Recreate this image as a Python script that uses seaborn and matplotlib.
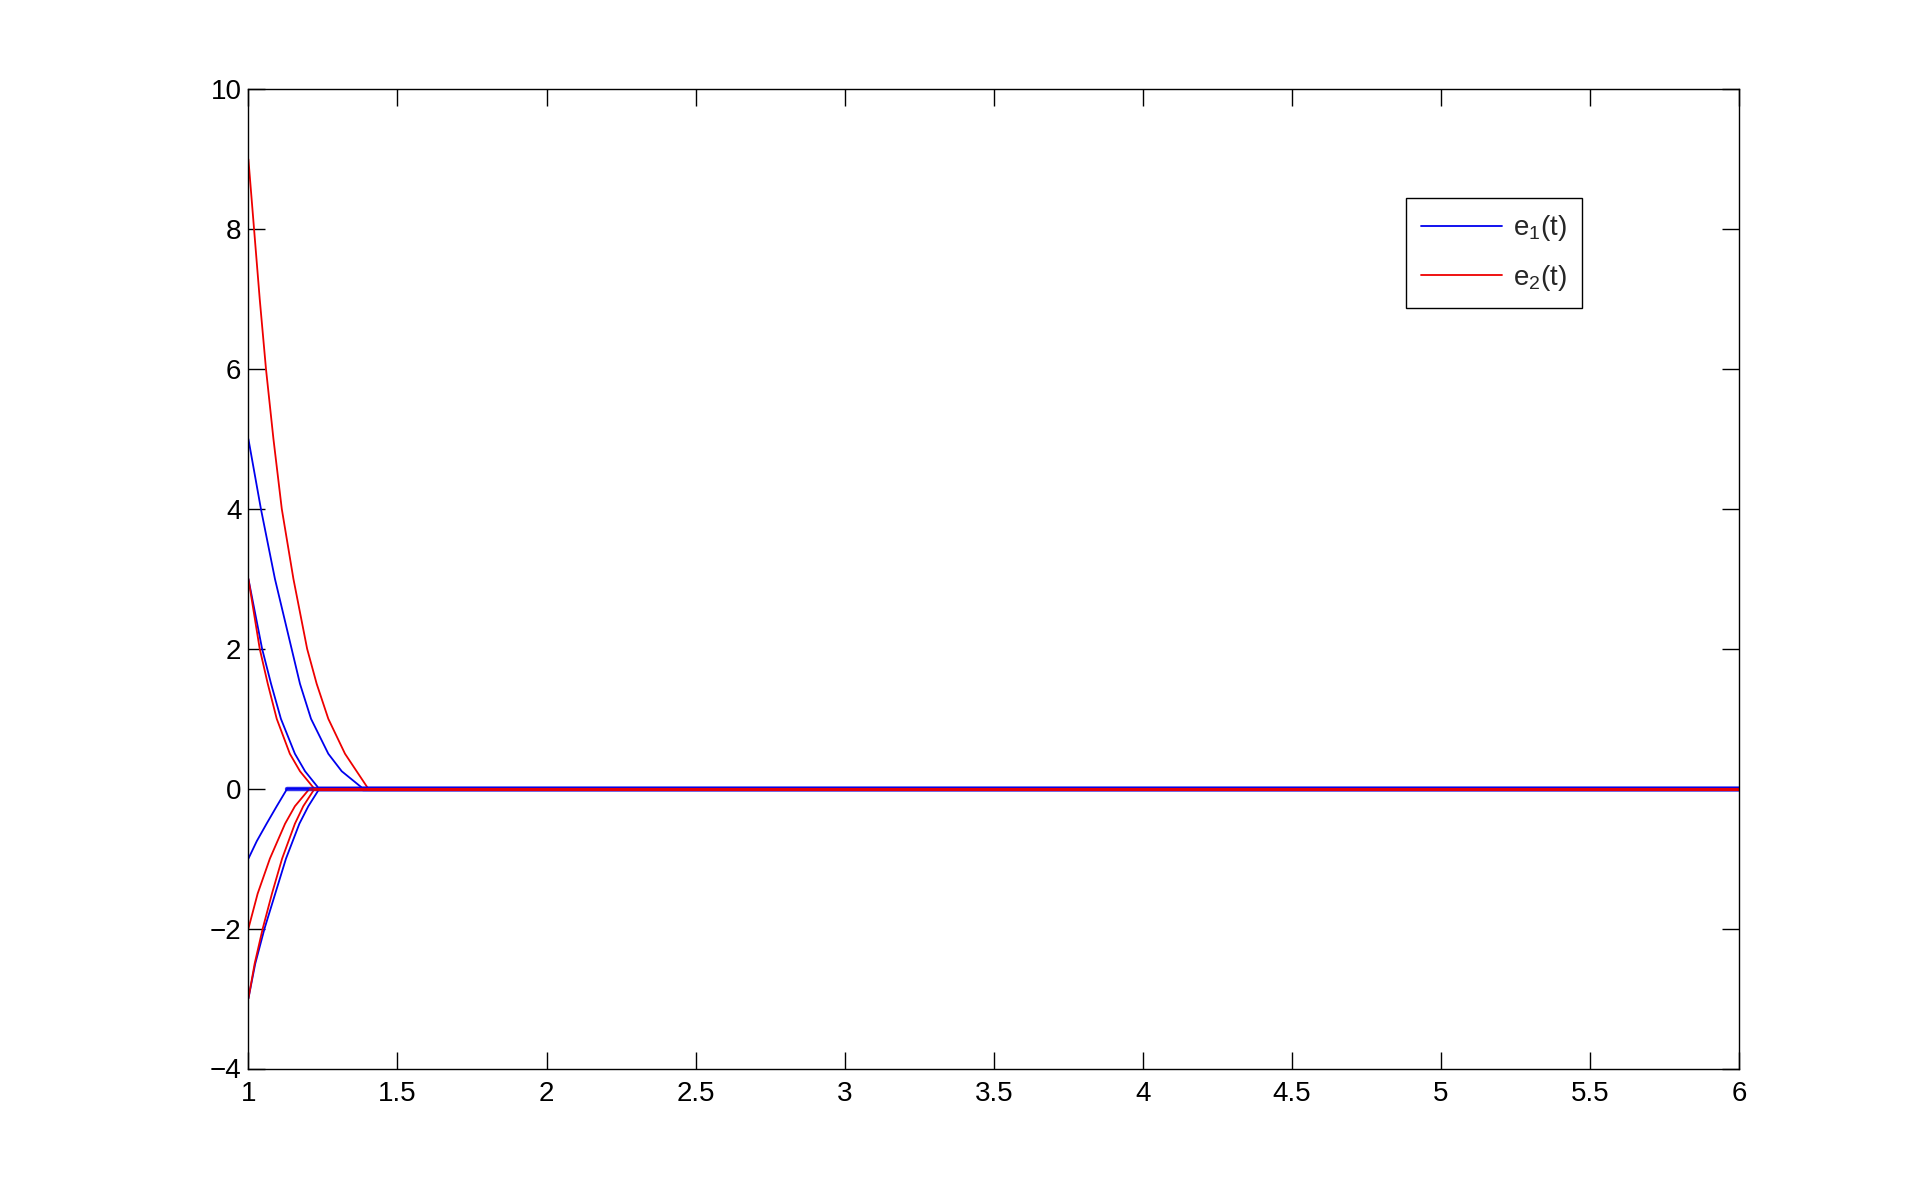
import numpy as np
import pandas as pd
import matplotlib
matplotlib.use("Agg")
import matplotlib.pyplot as plt
from matplotlib.lines import Line2D
import seaborn as sns

# ---- data (t, e) ----
# e1(t) trajectories (blue)
b1_t = [1.0, 1.042, 1.089, 1.145, 1.173, 1.210, 1.268, 1.313, 1.385, 6.0]
b1_v = [5.0, 4.0, 3.0, 2.0, 1.5, 1.0, 0.5, 0.25, 0.0, 0.0]
b2_t = [1.0, 1.046, 1.076, 1.109, 1.156, 1.190, 1.237, 6.0]
b2_v = [3.0, 2.0, 1.5, 1.0, 0.5, 0.25, 0.0, 0.0]
b3_t = [1.0, 1.028, 1.061, 1.095, 1.130, 6.0]
b3_v = [-1.0, -0.75, -0.5, -0.25, 0.0, 0.0]
b4_t = [1.0, 1.023, 1.054, 1.090, 1.126, 1.171, 1.201, 1.238, 6.0]
b4_v = [-3.0, -2.5, -2.0, -1.5, -1.0, -0.5, -0.25, 0.0, 0.0]
# e2(t) trajectories (red)
r1_t = [1.0, 1.019, 1.038, 1.059, 1.084, 1.112, 1.151, 1.197, 1.229, 1.268, 1.324, 1.363, 1.402, 6.0]
r1_v = [9.0, 8.0, 7.0, 6.0, 5.0, 4.0, 3.0, 2.0, 1.5, 1.0, 0.5, 0.25, 0.0, 0.0]
r2_t = [1.0, 1.038, 1.065, 1.095, 1.139, 1.173, 1.221, 6.0]
r2_v = [3.0, 2.0, 1.5, 1.0, 0.5, 0.25, 0.0, 0.0]
r3_t = [1.0, 1.031, 1.072, 1.123, 1.156, 1.205, 6.0]
r3_v = [-2.0, -1.5, -1.0, -0.5, -0.25, 0.0, 0.0]
r4_t = [1.0, 1.021, 1.048, 1.079, 1.113, 1.156, 1.184, 1.222, 6.0]
r4_v = [-3.0, -2.5, -2.0, -1.5, -1.0, -0.5, -0.25, 0.0, 0.0]

x_ticks = [1, 1.5, 2, 2.5, 3, 3.5, 4, 4.5, 5, 5.5, 6]
x_labels = ["1", "1.5", "2", "2.5", "3", "3.5", "4", "4.5", "5", "5.5", "6"]
y_ticks = [-4, -2, 0, 2, 4, 6, 8, 10]
series_names = ["e$_1$(t)", "e$_2$(t)"]

rows = []
for name, trajs in [(series_names[0], [(b1_t, b1_v), (b2_t, b2_v), (b3_t, b3_v), (b4_t, b4_v)]),
                    (series_names[1], [(r1_t, r1_v), (r2_t, r2_v), (r3_t, r3_v), (r4_t, r4_v)])]:
    for k, (tt, vv) in enumerate(trajs):
        for a, b in zip(tt, vv):
            rows.append({"t": a, "e": b, "series": name, "traj": f"{name}-{k}"})
df = pd.DataFrame(rows)

sns.set_theme(style="white")
plt.rcParams["font.family"] = ["Liberation Sans", "DejaVu Sans"]
plt.rcParams["mathtext.fontset"] = "custom"
plt.rcParams["mathtext.rm"] = "Liberation Sans"
plt.rcParams["mathtext.it"] = "Liberation Sans"

fig = plt.figure(figsize=(19.19, 12.02), dpi=100)
fig.patch.set_facecolor("white")
ax = fig.add_axes([248.4 / 1919, 1 - 1068.5 / 1202, (1739.2 - 248.4) / 1919, (1068.5 - 89.3) / 1202])

palette = {series_names[0]: "#0000ee", series_names[1]: "#ee0000"}
sns.lineplot(data=df, x="t", y="e", hue="series", units="traj", estimator=None,
             palette=palette, linewidth=1.3, ax=ax, sort=False, legend=False)

# chattering band on the converged part (drawn thicker, colours mixed)
tail = df[df["e"] == 0.0]
for name, lw, al in [(series_names[0], 3.2, 0.8), (series_names[1], 2.2, 0.6)]:
    for tr, g in tail[tail["series"] == name].groupby("traj"):
        ax.plot(g["t"], g["e"], color=palette[name], linewidth=lw, alpha=al)

ax.set_xlim(1, 6)
ax.set_ylim(-4, 10)
ax.set_xticks(x_ticks)
ax.set_xticklabels(x_labels)
ax.set_yticks(y_ticks)
ax.set_xlabel("")
ax.set_ylabel("")
ax.tick_params(direction="in", length=12, width=1, colors="black", labelsize=20,
               top=True, right=True, bottom=True, left=True)
ax.tick_params(axis="x", pad=9)
ax.tick_params(axis="y", pad=5)
for s in ax.spines.values():
    s.set_color("black")
    s.set_linewidth(1.0)
    s.set_visible(True)

handles = [Line2D([0], [0], color=palette[n], linewidth=1.3) for n in series_names]
leg = fig.legend(handles, series_names, loc="upper left",
                 bbox_to_anchor=(1406 / 1919, 1 - 198 / 1202),
                 fontsize=20, frameon=True, fancybox=False, framealpha=1,
                 edgecolor="black", handlelength=2.9, borderpad=0.55,
                 labelspacing=0.7, handletextpad=0.4, borderaxespad=0)
leg.get_frame().set_linewidth(1.0)

fig.savefig("out.png", dpi=100, facecolor="white")
